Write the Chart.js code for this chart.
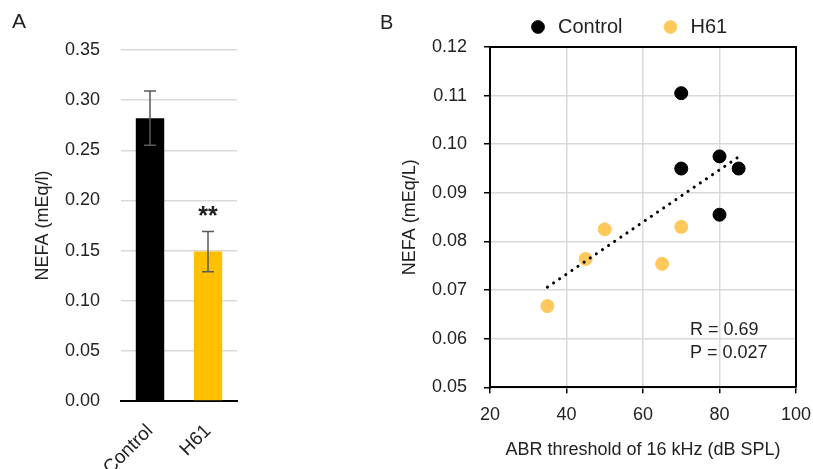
<!DOCTYPE html>
<html>
<head>
<meta charset="utf-8">
<script src="https://cdn.jsdelivr.net/npm/chart.js@4"></script>
<style>
  body { margin: 0; background: #fff; overflow: hidden; width: 813px; height: 469px; position: relative; }
  #grafikA { position: absolute; left: 0; top: 0; }
  #grafikB { position: absolute; left: 370px; top: -21px; }
</style>
</head>
<body>
<canvas id="grafikA" width="260" height="469"></canvas>
<canvas id="grafikB" width="443" height="490"></canvas>
<script>
// panel A: NEFA by group
const groups = ["Control", "H61"];
const nefaMean = [0.282, 0.149];
const nefaErr = [0.027, 0.020];
const yTicksA = [0, 0.05, 0.10, 0.15, 0.20, 0.25, 0.30, 0.35];

// panel B: NEFA vs ABR threshold
const controlAbr = [70, 70, 80, 85, 80];
const controlNefa = [0.1105, 0.095, 0.0975, 0.095, 0.0855];
const h61Abr = [50, 70, 45, 65, 35];
const h61Nefa = [0.0825, 0.083, 0.0764, 0.0754, 0.0667];
const trendAbr = [35, 85];
const trendNefa = [0.0706, 0.0974];
const xTicksB = [20, 40, 60, 80, 100];
const yTicksB = [0.05, 0.06, 0.07, 0.08, 0.09, 0.10, 0.11, 0.12];
const statsText = ["R = 0.69", "P = 0.027"];

const FONT = "'Liberation Sans', Arial, sans-serif";
const textCol = "#222";
Chart.defaults.font.family = FONT;
Chart.defaults.color = textCol;

const toPoints = (xs, ys) => xs.map((x, i) => ({ x: x, y: ys[i] }));

// error bars + significance mark for panel A
const errorBars = {
    id: "errorBars",
    afterDatasetsDraw(chart) {
        const ctx = chart.ctx;
        const y = chart.scales.y;
        const meta = chart.getDatasetMeta(0);
        ctx.save();
        ctx.strokeStyle = "#5a5a5a";
        ctx.lineWidth = 1.5;
        meta.data.forEach((bar, i) => {
            const top = y.getPixelForValue(nefaMean[i] + nefaErr[i]);
            const bot = y.getPixelForValue(nefaMean[i] - nefaErr[i]);
            ctx.beginPath();
            ctx.moveTo(bar.x, top); ctx.lineTo(bar.x, bot);
            ctx.moveTo(bar.x - 6, top); ctx.lineTo(bar.x + 6, top);
            ctx.moveTo(bar.x - 6, bot); ctx.lineTo(bar.x + 6, bot);
            ctx.stroke();
        });
        // ** above H61
        const h = meta.data[1];
        ctx.fillStyle = textCol;
        ctx.font = "bold 25px " + FONT;
        ctx.textAlign = "center";
        ctx.textBaseline = "alphabetic";
        ctx.fillText("**", h.x, y.getPixelForValue(nefaMean[1] + nefaErr[1]) - 8);
        ctx.font = "21px " + FONT;
        ctx.textAlign = "left";
        ctx.fillText("A", 12, 28);
        ctx.restore();
    },
};

new Chart(document.getElementById("grafikA"), {
    type: "bar",
    data: {
        labels: groups,
        datasets: [
            {
                label: "NEFA",
                data: nefaMean,
                backgroundColor: ["#000000", "#ffc000"],
                barPercentage: 0.49,
                categoryPercentage: 1,
            },
        ],
    },
    options: {
        responsive: false,
        animation: false,
        layout: { padding: { top: 50, right: 23, left: 0, bottom: 0 } },
        plugins: { legend: { display: false }, tooltip: { enabled: false } },
        scales: {
            x: {
                grid: { display: false },
                border: { color: "#000", width: 2 },
                ticks: { minRotation: 45, maxRotation: 45, padding: 11, font: { size: 19 } },
                afterFit(s) { s.height = 68; s.paddingLeft = 0; s.paddingRight = 0; },
            },
            y: {
                min: 0,
                max: 0.35,
                afterBuildTicks(s) { s.ticks = yTicksA.map(v => ({ value: v })); },
                grid: { color: "#d9d9d9", lineWidth: 1.5, drawTicks: false },
                border: { display: false },
                ticks: { padding: 21, font: { size: 18 }, callback: v => v.toFixed(2) },
                title: { display: true, text: "NEFA (mEq/l)", font: { size: 18 }, padding: { top: 32, bottom: 0 } },
                afterFit(s) { s.width = 121; },
            },
        },
    },
    plugins: [errorBars],
});

// frame, stats text and panel letter for B
const frameB = {
    id: "frameB",
    afterDraw(chart) {
        const ctx = chart.ctx;
        const a = chart.chartArea;
        const xs = chart.scales.x, ys = chart.scales.y;
        ctx.save();
        ctx.strokeStyle = "#000";
        ctx.lineWidth = 2;
        ctx.beginPath();
        ctx.moveTo(a.left, a.top); ctx.lineTo(a.right, a.top); ctx.lineTo(a.right, a.bottom);
        ctx.stroke();
        ctx.fillStyle = textCol;
        ctx.font = "18px " + FONT;
        ctx.textAlign = "left";
        ctx.textBaseline = "middle";
        ctx.fillText(statsText[0], xs.getPixelForValue(72.3), ys.getPixelForValue(0.0618));
        ctx.fillText(statsText[1], xs.getPixelForValue(72.3), ys.getPixelForValue(0.0571));
        ctx.font = "20px " + FONT;
        ctx.textBaseline = "alphabetic";
        ctx.fillText("B", 10, 50);
        ctx.restore();
    },
};

new Chart(document.getElementById("grafikB"), {
    type: "scatter",
    data: {
        datasets: [
            {
                label: "Control",
                data: toPoints(controlAbr, controlNefa),
                backgroundColor: "#000000",
                borderColor: "#000000",
                pointRadius: 6.5,
                order: 1,
            },
            {
                label: "H61",
                data: toPoints(h61Abr, h61Nefa),
                backgroundColor: "#ffc85a",
                borderColor: "#ffc85a",
                pointRadius: 6.5,
                order: 1,
            },
            {
                label: "trend",
                data: toPoints(trendAbr, trendNefa),
                showLine: true,
                pointRadius: 0,
                borderColor: "#000",
                borderWidth: 3,
                borderDash: [0.1, 7.3],
                borderCapStyle: "round",
                order: 0,
            },
        ],
    },
    options: {
        responsive: false,
        animation: false,
        layout: { padding: { top: 0, right: 17, left: 0, bottom: 0 } },
        plugins: {
            tooltip: { enabled: false },
            legend: {
                position: "top",
                align: "start",
                fullSize: false,
                labels: {
                    filter: item => item.text !== "trend",
                    usePointStyle: true,
                    pointStyle: "circle",
                    boxWidth: 20,
                    boxHeight: 9,
                    padding: 38,
                    color: textCol,
                    font: { size: 20 },
                },
            },
        },
        scales: {
            x: {
                type: "linear",
                min: 20,
                max: 100,
                afterBuildTicks(s) { s.ticks = xTicksB.map(v => ({ value: v })); },
                grid: { color: "#d9d9d9", lineWidth: 1.5, tickColor: "#000", tickLength: 6 },
                border: { color: "#000", width: 2 },
                ticks: { padding: 11, font: { size: 18 } },
                title: { display: true, text: "ABR threshold of 16 kHz (dB SPL)", font: { size: 18 }, padding: { top: 0, bottom: 8 } },
                afterFit(s) { s.height = 81.7; s.paddingLeft = 0; s.paddingRight = 0; },
            },
            y: {
                min: 0.05,
                max: 0.12,
                afterBuildTicks(s) { s.ticks = yTicksB.map(v => ({ value: v })); },
                grid: { color: "#d9d9d9", lineWidth: 1.5, tickColor: "#000", tickLength: 6 },
                border: { color: "#000", width: 2 },
                ticks: { padding: 17, font: { size: 18 }, callback: v => v.toFixed(2) },
                title: { display: true, text: "NEFA (mEq/L)", font: { size: 18 }, padding: { top: 29, bottom: 0 } },
                afterFit(s) { s.width = 120; },
            },
        },
    },
    plugins: [frameB],
});
</script>
</body>
</html>
